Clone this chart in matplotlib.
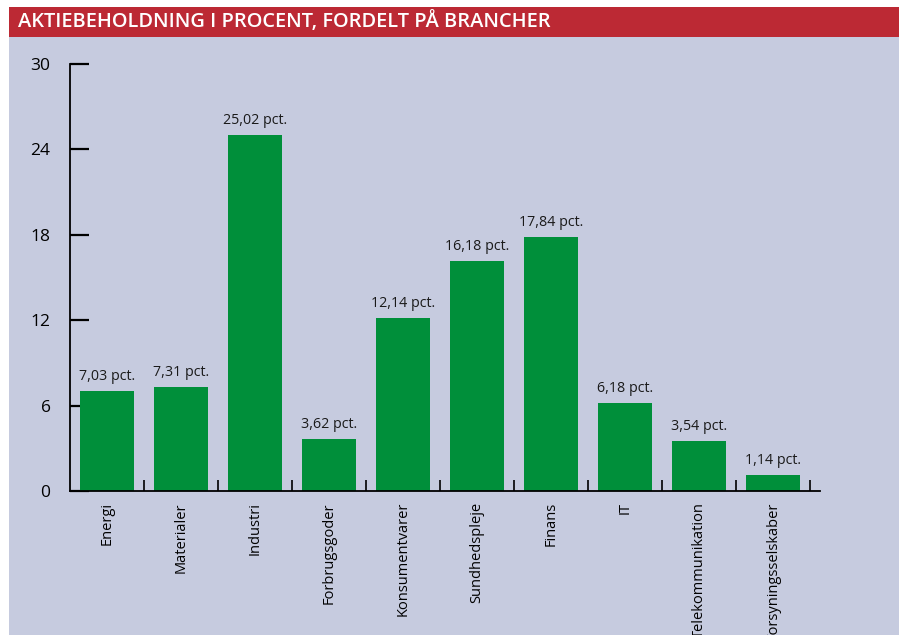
import matplotlib
matplotlib.use("Agg")
import matplotlib.pyplot as plt
from matplotlib.patches import Rectangle

# -- Data ----------------------------------------------------------------------
title = "AKTIEBEHOLDNING I PROCENT, FORDELT PÅ BRANCHER"
categories = ["Energi", "Materialer", "Industri", "Forbrugsgoder",
              "Konsumentvarer", "Sundhedspleje", "Finans", "IT",
              "Telekommunikation", "Forsyningsselskaber"]
values = [7.03, 7.31, 25.02, 3.62, 12.14, 16.18, 17.84, 6.18, 3.54, 1.14]
y_ticks = [0, 6, 12, 18, 24, 30]

BG = "#c6cbdf"
RED = "#bc2934"
GREEN = "#008f3a"

plt.rcParams["font.family"] = ["Open Sans", "DejaVu Sans"]

W, H = 899, 635
fig = plt.figure(figsize=(W / 100, H / 100), dpi=100)
fig.patch.set_facecolor("white")

# panel + title bar (pixel coords converted to figure fractions)
fig.add_artist(Rectangle((9 / W, 0), 1, (H - 7) / H, transform=fig.transFigure,
                         facecolor=BG, edgecolor="none", zorder=0))
fig.add_artist(Rectangle((9 / W, (H - 37) / H), 1, 30 / H,
                         transform=fig.transFigure, facecolor=RED,
                         edgecolor="none", zorder=1))
fig.text(18 / W, (H - 22) / H, title, color="white", fontsize=14.4,
         fontweight="semibold", va="center", ha="left", zorder=2)

# -- Axes ----------------------------------------------------------------------
ax = fig.add_axes([70 / W, (H - 491) / H, 750 / W, 427 / H])
ax.set_facecolor("none")

x = list(range(len(categories)))
bars = ax.bar(x, values, width=54 / 74, color=GREEN, zorder=2)

for xi, v in zip(x, values):
    ax.annotate(f"{v:.2f}".replace(".", ",") + " pct.", (xi, v),
                xytext=(0, 7), textcoords="offset pixels",
                ha="center", va="bottom", fontsize=10.3, color="#1a1a1a")

ax.set_xlim(-0.5, -0.5 + 750 / 74)
ax.set_ylim(0, 30)

ax.set_yticks(y_ticks)
ax.set_yticklabels([str(t) for t in y_ticks], fontsize=12.5)
ax.tick_params(axis="y", direction="in", length=14, width=1.6, pad=14,
               color="black")

# category labels via minor ticks at bar centres, small ticks between bars
ax.set_xticks([i + 0.5 for i in x])
ax.set_xticklabels([])
ax.tick_params(axis="x", which="major", direction="in", length=8, width=1.2)
ax.set_xticks(x, minor=True)
ax.set_xticklabels(categories, minor=True, rotation=90, fontsize=10.5,
                   va="top", ha="center")
ax.tick_params(axis="x", which="minor", length=0, pad=8)

for side in ("top", "right"):
    ax.spines[side].set_visible(False)
for side in ("left", "bottom"):
    ax.spines[side].set_linewidth(1.3)

fig.savefig("out.png", dpi=100)
